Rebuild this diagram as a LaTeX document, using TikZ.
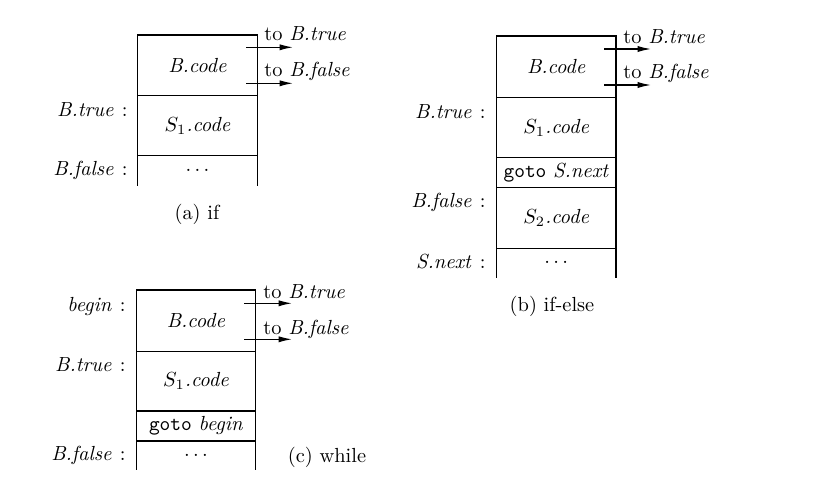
\documentclass[tikz,border=0pt]{standalone}
\usetikzlibrary{arrows.meta}
\begin{document}
\begin{tikzpicture}[x=0.49pt,y=-0.49pt,
  cell/.style={draw,line width=0.6pt,rectangle,inner sep=0pt,outer sep=0pt,anchor=north,minimum width=#1*0.49pt},
  opencell/.style={rectangle,inner sep=0pt,outer sep=0pt,anchor=north,minimum width=#1*0.49pt},
  lbl/.style={anchor=east,inner sep=0pt},
  tolbl/.style={anchor=base west,inner sep=0pt},
  arr/.style={line width=0.6pt,-{Latex[length=6.5pt,width=3pt]}},
  side/.style={line width=0.6pt}]
\useasboundingbox (0,0) rectangle (835,493);
% ---------- (a) if ----------
\node[cell=120,minimum height=29.6pt] (aB) at (197.5,35) {\textit{B.code}};
\node[cell=120,minimum height=29.6pt] (aS) at (aB.south) {$S_1$\textit{.code}};
\node[opencell=120,minimum height=14.7pt] (aE) at (aS.south) {$\cdots$};
\draw[side] (aE.north west) -- (aE.south west) (aE.north east) -- (aE.south east);
\node[lbl] (aL1) at (128,110) {\textit{B.true}\hspace{4pt}:};
\node[lbl] (aL2) at (128,170) {\textit{B.false}\hspace{4pt}:};
\coordinate (aa1s) at (246,47.3); \coordinate (aa1e) at (293,47.3);
\coordinate (aa2s) at (246,83.3); \coordinate (aa2e) at (293,83.3);
\draw[arr] (aa1s) -- (aa1e);
\draw[arr] (aa2s) -- (aa2e);
\node[tolbl] (aT1) at (264,40.5) {to \textit{B.true}};
\node[tolbl] (aT2) at (264,76.7) {to \textit{B.false}};
\node (aC) at (197,214) {(a) if};
% ---------- (b) if-else ----------
\node[cell=119.5,minimum height=30.1pt] (bB) at (556.25,36) {\textit{B.code}};
\node[cell=119.5,minimum height=29.6pt] (bS1) at (bB.south) {$S_1$\textit{.code}};
\node[cell=119.5,minimum height=14.7pt] (bG) at (bS1.south) {\texttt{goto} \textit{S.next}};
\node[cell=119.5,minimum height=29.9pt] (bS2) at (bG.south) {$S_2$\textit{.code}};
\node[opencell=119.5,minimum height=14.2pt] (bE) at (bS2.south) {$\cdots$};
\draw[side] (bE.north west) -- (bE.south west) (bE.north east) -- (bE.south east);
\node[lbl] (bL1) at (486,111.7) {\textit{B.true}\hspace{4pt}:};
\node[lbl] (bL2) at (486,202.7) {\textit{B.false}\hspace{4pt}:};
\node[lbl] (bL3) at (486,261.7) {\textit{S.next}\hspace{4pt}:};
\coordinate (ba1s) at (604,49); \coordinate (ba1e) at (651,49);
\coordinate (ba2s) at (604,85); \coordinate (ba2e) at (651,85);
\draw[arr] (ba1s) -- (ba1e);
\draw[arr] (ba2s) -- (ba2e);
\node[tolbl] (bT1) at (623,43) {to \textit{B.true}};
\node[tolbl] (bT2) at (623,79) {to \textit{B.false}};
\node (bC) at (552,306) {(b) if-else};
% ---------- (c) while ----------
\node[cell=119,minimum height=30.1pt] (cB) at (196,290) {\textit{B.code}};
\node[cell=119,minimum height=29.2pt] (cS) at (cB.south) {$S_1$\textit{.code}};
\node[cell=119,minimum height=14.7pt] (cG) at (cS.south) {\texttt{goto} \textit{begin}};
\node[opencell=119,minimum height=14.2pt] (cE) at (cG.south) {$\cdots$};
\draw[side] (cE.north west) -- (cE.south west) (cE.north east) -- (cE.south east);
\node[lbl] (cL0) at (126,306.7) {\textit{begin}\hspace{4pt}:};
\node[lbl] (cL1) at (126,365) {\textit{B.true}\hspace{4pt}:};
\node[lbl] (cL2) at (126,455) {\textit{B.false}\hspace{4pt}:};
\coordinate (ca1s) at (244,303.3); \coordinate (ca1e) at (292,303.3);
\coordinate (ca2s) at (244,339.3); \coordinate (ca2e) at (292,339.3);
\draw[arr] (ca1s) -- (ca1e);
\draw[arr] (ca2s) -- (ca2e);
\node[tolbl] (cT1) at (263,298.3) {to \textit{B.true}};
\node[tolbl] (cT2) at (263,334.3) {to \textit{B.false}};
\node (cC) at (327,457) {(c) while};
\end{tikzpicture}
\end{document}
